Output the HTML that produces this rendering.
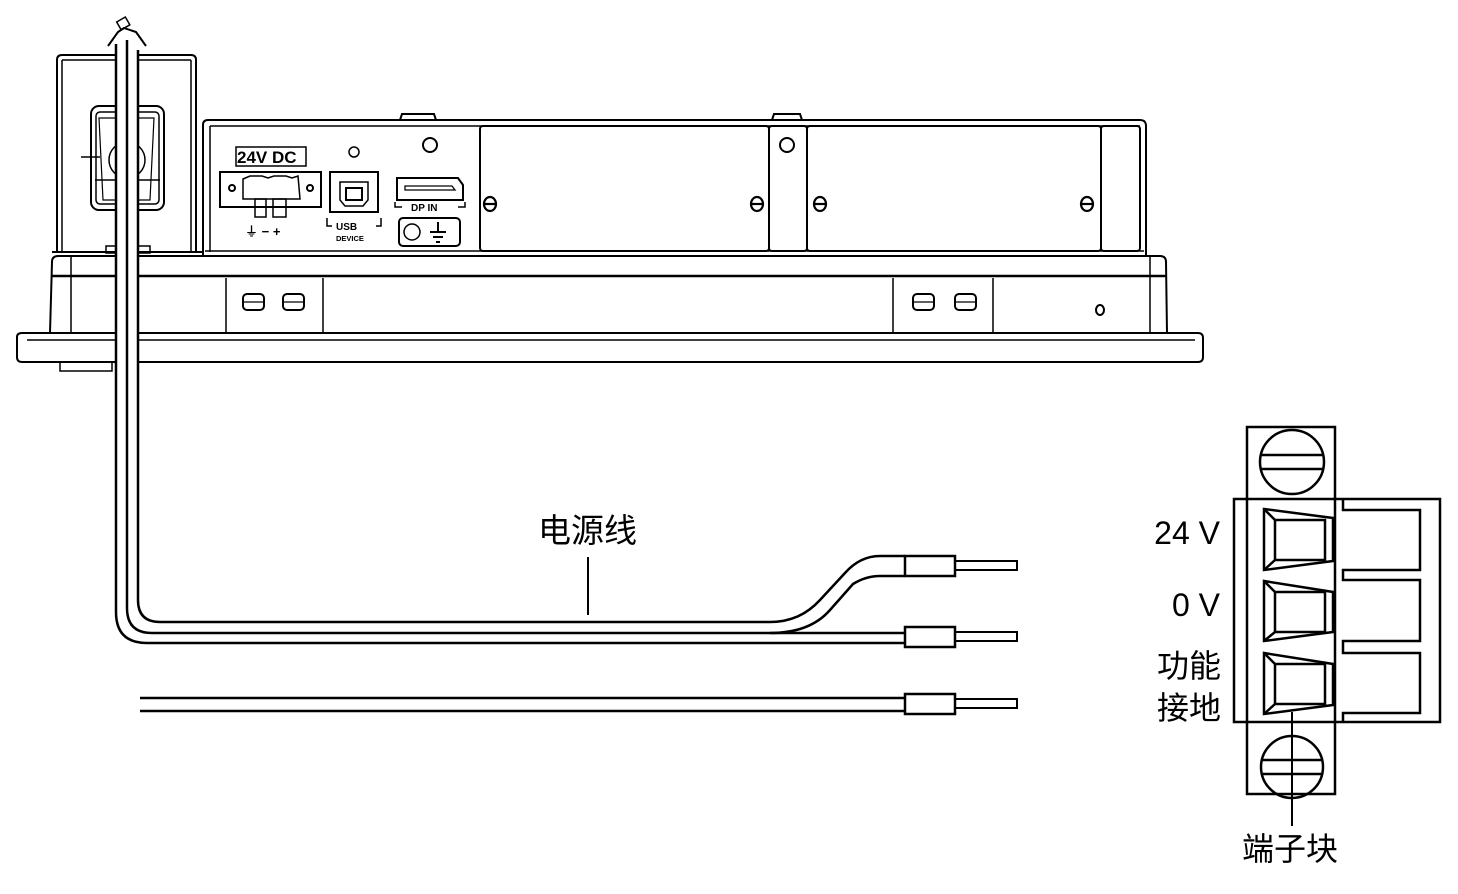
<!DOCTYPE html>
<html><head><meta charset="utf-8"><style>
html,body{margin:0;padding:0;background:#fff;}
svg{display:block;}
text{font-family:"Liberation Sans","Noto Sans CJK SC",sans-serif;fill:#000;}
</style></head><body>
<svg width="1458" height="894" viewBox="0 0 1458 894" xmlns="http://www.w3.org/2000/svg">
<g fill="none" stroke="#000" stroke-width="2">
<!-- front plate -->
<path d="M17 337 Q17 333 22 333 L1198 333 Q1203 333 1203 338 L1203 357 Q1203 362 1198 362 L22 362 Q17 362 17 357 Z"/>
<line x1="27" y1="340" x2="1195" y2="340" stroke-width="1.5"/>
<rect x="60" y="362" width="52" height="9" stroke-width="1.5"/>
<!-- bezel -->
<path d="M50 333 L52 262 Q52 256 58 256 L1160 256 Q1166 256 1166 262 L1167 333"/>
<line x1="52" y1="276" x2="1166" y2="276" stroke-width="2.5"/>
<line x1="71" y1="256" x2="71" y2="333" stroke-width="1.5"/>
<line x1="1150" y1="256" x2="1150" y2="333" stroke-width="1.5"/>
<line x1="226" y1="278" x2="226" y2="333" stroke-width="1.5"/>
<line x1="323" y1="278" x2="323" y2="333" stroke-width="1.5"/>
<line x1="893" y1="278" x2="893" y2="333" stroke-width="1.5"/>
<line x1="993" y1="278" x2="993" y2="333" stroke-width="1.5"/>
<rect x="243" y="294" width="21" height="16" rx="4"/><line x1="243" y1="302" x2="264" y2="302" stroke-width="1.2"/>
<rect x="283" y="294" width="21" height="16" rx="4"/><line x1="283" y1="302" x2="304" y2="302" stroke-width="1.2"/>
<rect x="913" y="294" width="21" height="16" rx="4"/><line x1="913" y1="302" x2="934" y2="302" stroke-width="1.2"/>
<rect x="955" y="294" width="21" height="16" rx="4"/><line x1="955" y1="302" x2="976" y2="302" stroke-width="1.2"/>
<ellipse cx="1100" cy="310" rx="4" ry="5"/>
<!-- main case -->
<path d="M203 255 L203 125 Q203 120 208 120 L1140 120 Q1146 120 1146 126 L1146 255"/>
<line x1="210" y1="126" x2="1140" y2="126" stroke-width="1.5"/>
<line x1="210" y1="126" x2="210" y2="252" stroke-width="1.5"/>
<line x1="205" y1="251" x2="1144" y2="251" stroke-width="1.5"/>
<path d="M400 120 L402 114 L434 114 L436 120" stroke-width="2"/>
<path d="M772 120 L774 114 L800 114 L802 120" stroke-width="2"/>
<rect x="480" y="126" width="289" height="125" rx="3"/>
<rect x="769" y="126" width="38" height="125" rx="3"/>
<rect x="807" y="126" width="294" height="125" rx="3"/>
<rect x="1101" y="126" width="39" height="125" rx="3"/>
<circle cx="430" cy="145" r="7"/>
<circle cx="787" cy="145" r="7"/>
<g stroke-width="2.2">
<ellipse cx="490" cy="204" rx="6" ry="7"/><line x1="484" y1="204" x2="496" y2="204"/>
<ellipse cx="757" cy="204" rx="6" ry="7"/><line x1="751" y1="204" x2="763" y2="204"/>
<ellipse cx="820" cy="204" rx="6" ry="7"/><line x1="814" y1="204" x2="826" y2="204"/>
<ellipse cx="1087" cy="204" rx="6" ry="7"/><line x1="1081" y1="204" x2="1093" y2="204"/>
</g>
<!-- 24V DC connector -->
<rect x="236" y="147" width="70" height="19" stroke-width="1.5"/>
<rect x="220" y="172" width="101" height="35" stroke-width="2"/>
<path d="M243 179 L250 176 L262 176 L268 178 L274 176 L286 176 L292 178 L298 176 L300 199 L243 199 Z" stroke-width="1.5"/>
<circle cx="232" cy="188" r="3"/><circle cx="310" cy="188" r="3"/>
<rect x="255" y="199" width="11" height="18" stroke-width="1.5"/><rect x="273" y="199" width="13" height="18" stroke-width="1.5"/>
<!-- USB -->
<rect x="330" y="172" width="48" height="40" stroke-width="2"/>
<path d="M340 182 L368 182 L368 200 L363 206 L345 206 L340 200 Z" stroke-width="1.5"/>
<rect x="346" y="188" width="16" height="12" stroke-width="2"/>
<path d="M327 218 L327 226 L332 226 M381 218 L381 226 L376 226" stroke-width="1.5"/>
<circle cx="354" cy="152" r="5" stroke-width="1.5"/>
<!-- DP -->
<path d="M397 178 L458 178 L463 185 L463 200 L397 200 Z" stroke-width="2"/>
<path d="M405 186 L452 186 L455 190 L405 190 Z" stroke-width="1.3"/>
<path d="M395 202 L395 207 L402 207 M465 202 L465 207 L458 207" stroke-width="1.5"/>
<rect x="399" y="218" width="61" height="28" rx="4" stroke-width="2"/>
<circle cx="412" cy="232" r="8" stroke-width="1.5"/>
<path d="M438 222 L438 232 M430 232 L446 232 M433 237 L443 237 M436 242 L440 242" stroke-width="2"/>
<!-- left bracket -->
<path d="M57 252 L57 60 Q57 55 62 55 L191 55 Q196 55 196 60 L196 252" stroke-width="2"/>
<line x1="62" y1="60" x2="191" y2="60" stroke-width="1.5"/>
<line x1="62" y1="60" x2="62" y2="252" stroke-width="1.5"/>
<line x1="191" y1="60" x2="191" y2="252" stroke-width="1.5"/>
<line x1="52" y1="252" x2="203" y2="252" stroke-width="2"/>
<rect x="91" y="106" width="73" height="104" rx="8" stroke-width="2"/>
<rect x="96" y="112" width="63" height="92" rx="4" stroke-width="1.5"/>
<path d="M99 118 L154 118 L150 200 L103 200 Z" stroke-width="1.2"/>
<circle cx="127" cy="160" r="18" stroke-width="1.5"/>
<line x1="81" y1="157" x2="100" y2="157" stroke-width="1.5"/>
<line x1="95" y1="180" x2="160" y2="180" stroke-width="1.5"/>
<rect x="106" y="246" width="44" height="7" stroke-width="1.5"/>
<path d="M108 46 L118 32 L124 28 L136 32 L146 46" stroke-width="2"/>
<rect x="118" y="19" width="10" height="9" transform="rotate(-30 123 23)" stroke-width="1.5"/>
</g>
<g font-weight="bold" font-family="Liberation Sans,sans-serif">
<text x="237" y="163" font-size="17">24V DC</text>
<text x="336" y="230" font-size="10">USB</text>
<text x="336" y="241" font-size="7.5">DEVICE</text>
<text x="411" y="211" font-size="10">DP IN</text>
<text x="245" y="236" font-size="13">⏚  −  +</text>
</g>
<!-- cable -->
<rect x="116" y="36" width="22" height="600" fill="#fff"/>
<g fill="none" stroke="#000">
<path d="M138 50 L138 600 Q138 622 160 622 L770 622 Q800 622 820 600 L845 573 Q860 556 880 556 L905 556" stroke-width="2.5"/>
<path d="M127 40 L127 608 Q127 633 152 633 L770 633 Q810 633 830 610 L853 584 Q866 576 880 576 L905 576" stroke-width="2.5"/>
<path d="M116 44 L116 612 Q116 643 147 643 L905 643" stroke-width="2.5"/>
<line x1="770" y1="633" x2="905" y2="633" stroke-width="2.5"/>
<line x1="140" y1="698" x2="905" y2="698" stroke-width="2.5"/>
<line x1="140" y1="711" x2="905" y2="711" stroke-width="2.5"/>
<rect x="905" y="556" width="50" height="20" stroke-width="2.5"/>
<rect x="905" y="627" width="50" height="20" stroke-width="2.5"/>
<rect x="905" y="694" width="50" height="20" stroke-width="2.5"/>
<rect x="955" y="561" width="62" height="9" stroke-width="2"/>
<rect x="955" y="632" width="62" height="9" stroke-width="2"/>
<rect x="955" y="699" width="62" height="9" stroke-width="2"/>
<line x1="588" y1="557" x2="588" y2="615" stroke-width="2"/>
</g>
<text x="538" y="542" font-size="33">电源线</text>
<!-- terminal block -->
<g fill="none" stroke="#000" stroke-width="2.5">
<rect x="1247" y="427" width="88" height="367"/>
<rect x="1234" y="499" width="206" height="223"/>
<circle cx="1292" cy="462" r="32"/>
<line x1="1261" y1="455" x2="1323" y2="455"/><line x1="1261" y1="469" x2="1323" y2="469"/>
<circle cx="1292" cy="767" r="31"/>
<line x1="1261" y1="760" x2="1323" y2="760"/><line x1="1261" y1="774" x2="1323" y2="774"/>
<path d="M1264 509 L1333 518 L1333 561 L1264 570 Z"/><rect x="1275" y="520" width="50" height="40"/><path d="M1264 509 L1275 520 M1264 570 L1275 560"/>
<path d="M1264 581 L1333 592 L1333 632 L1264 641 Z"/><rect x="1275" y="592" width="50" height="40"/><path d="M1264 581 L1275 592 M1264 641 L1275 632"/>
<path d="M1264 653 L1333 664 L1333 705 L1264 714 Z"/><rect x="1275" y="664" width="50" height="40"/><path d="M1264 653 L1275 664 M1264 714 L1275 704"/>
<path d="M1343 499 L1343 510 L1420 510 L1420 570 L1343 570 L1343 580 L1420 580 L1420 641 L1343 641 L1343 653 L1420 653 L1420 713 L1343 713 L1343 722"/>
<line x1="1292" y1="712" x2="1292" y2="826" stroke-width="2"/>
</g>
<text x="1220" y="544" font-size="32" text-anchor="end">24 V</text>
<text x="1220" y="616" font-size="32" text-anchor="end">0 V</text>
<text x="1221" y="677" font-size="32" text-anchor="end">功能</text>
<text x="1221" y="719" font-size="32" text-anchor="end">接地</text>
<text x="1290" y="860" font-size="32" text-anchor="middle">端子块</text>
</svg>
</body></html>
